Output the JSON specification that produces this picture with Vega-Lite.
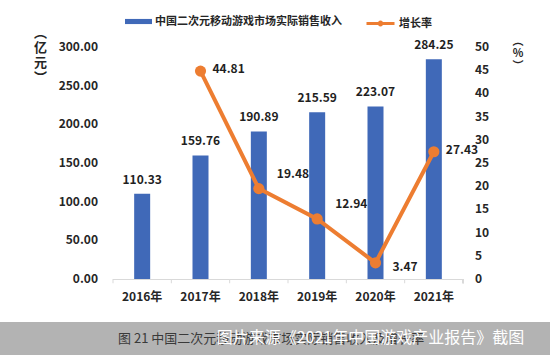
{
  "$schema": "https://vega.github.io/schema/vega-lite/v6.json",
  "width": 550,
  "height": 355,
  "autosize": {"type": "none"},
  "padding": 0,
  "background": "#ffffff",
  "config": {"view": {"stroke": null}, "font": "Noto Sans CJK SC"},
  "datasets": {
    "main": [
      {"year": "2016年", "revenue": 110.33, "growth": null},
      {"year": "2017年", "revenue": 159.76, "growth": 44.81},
      {"year": "2018年", "revenue": 190.89, "growth": 19.48},
      {"year": "2019年", "revenue": 215.59, "growth": 12.94},
      {"year": "2020年", "revenue": 223.07, "growth": 3.47},
      {"year": "2021年", "revenue": 284.25, "growth": 27.43}
    ],
    "leftTicks": [{"v": 0}, {"v": 50}, {"v": 100}, {"v": 150}, {"v": 200}, {"v": 250}, {"v": 300}],
    "rightTicks": [{"v": 0}, {"v": 5}, {"v": 10}, {"v": 15}, {"v": 20}, {"v": 25}, {"v": 30}, {"v": 35}, {"v": 40}, {"v": 45}, {"v": 50}],
    "texts": [{"caption": "图 21 中国二次元移动游戏市场实际销售收入及增长率", "source": "图片来源《2021年中国游戏产业报告》截图", "leftTitle": "︵\n亿\n元\n︶", "rightTitle": "︵\n%\n︶"}]
  },
  "data": {"name": "main"},
  "layer": [
    {
      "layer": [
        {
          "mark": {"type": "rect", "color": "#b3b3b3"},
          "encoding": {
            "y": {"datum": -55.6, "type": "quantitative", "axis": null},
            "y2": {"datum": -140}
          }
        },
        {
          "mark": {"type": "bar", "width": {"band": 1}, "color": "#d9d9d9"},
          "encoding": {
            "x": {"field": "year", "type": "nominal", "sort": null, "axis": null},
            "y": {"datum": 0, "type": "quantitative", "axis": null},
            "y2": {"datum": -1.3}
          }
        },
        {
          "mark": {"type": "rule", "color": "#d9d9d9", "strokeWidth": 1},
          "encoding": {
            "x": {"field": "year", "type": "nominal", "sort": null, "bandPosition": 0, "axis": null},
            "y": {"datum": 0, "type": "quantitative", "axis": null},
            "y2": {"datum": -5.5}
          }
        },
        {
          "mark": {"type": "rule", "color": "#d9d9d9", "strokeWidth": 1},
          "encoding": {
            "x": {"datum": "2021年", "bandPosition": 1, "axis": null},
            "y": {"datum": 0, "type": "quantitative", "axis": null},
            "y2": {"datum": -5.5}
          }
        },
        {
          "mark": {"type": "bar", "width": 16},
          "encoding": {
            "x": {
              "field": "year", "type": "nominal", "sort": null,
              "scale": {"range": [113, 463], "paddingInner": 0, "paddingOuter": 0},
              "axis": null
            },
            "y": {
              "field": "revenue", "type": "quantitative",
              "scale": {"domain": [0, 300], "range": [279, 47], "nice": false, "zero": false},
              "axis": null
            },
            "fill": {
              "datum": "中国二次元移动游戏市场实际销售收入", "type": "nominal",
              "scale": {"range": ["#4069B8"]},
              "legend": {
                "orient": "none", "legendX": 125, "legendY": 8, "direction": "horizontal", "title": null,
                "labelFontSize": 11, "labelFontWeight": "bold", "labelColor": "#262626", "labelLimit": 400,
                "symbolType": "M-1,-0.19H1V0.19H-1Z", "symbolSize": 729, "symbolStrokeWidth": 0,
                "labelOffset": 3, "padding": 0
              }
            }
          }
        },
        {
          "mark": {"type": "text", "baseline": "middle", "dy": -14, "fontSize": 12, "fontWeight": "bold", "color": "#1f1f1f"},
          "encoding": {
            "x": {"field": "year", "type": "nominal", "sort": null, "axis": null},
            "y": {"field": "revenue", "type": "quantitative", "axis": null},
            "text": {"field": "revenue", "type": "quantitative", "format": ".2f"}
          }
        },
        {
          "mark": {"type": "text", "baseline": "middle", "fontSize": 12, "fontWeight": "bold", "color": "#262626"},
          "encoding": {
            "x": {"field": "year", "type": "nominal", "sort": null, "axis": null},
            "y": {"datum": -23.3, "type": "quantitative", "axis": null},
            "text": {"field": "year"}
          }
        },
        {
          "data": {"name": "leftTicks"},
          "mark": {"type": "text", "align": "right", "baseline": "middle", "dx": -15, "fontSize": 12, "fontWeight": "bold", "color": "#262626"},
          "encoding": {
            "x": {"datum": "2016年", "bandPosition": 0, "axis": null},
            "y": {"field": "v", "type": "quantitative", "axis": null},
            "text": {"field": "v", "type": "quantitative", "format": ".2f"}
          }
        },
        {
          "data": {"name": "texts"},
          "layer": [
            {
              "mark": {"type": "text", "align": "left", "baseline": "middle", "dx": 5, "fontSize": 13, "color": "#3a3a3a"},
              "encoding": {
                "x": {"datum": "2016年", "bandPosition": 0, "axis": null},
                "y": {"datum": -77, "type": "quantitative", "axis": null},
                "text": {"field": "caption"}
              }
            },
            {
              "mark": {"type": "text", "align": "left", "baseline": "middle", "dx": -13, "fontSize": 16, "color": "#ffffff"},
              "encoding": {
                "x": {"datum": "2018年", "bandPosition": 0, "axis": null},
                "y": {"datum": -76, "type": "quantitative", "axis": null},
                "text": {"field": "source"}
              }
            },
            {
              "mark": {"type": "text", "align": "center", "baseline": "middle", "dx": -72.5, "fontSize": 13, "fontWeight": "bold", "lineHeight": 15, "lineBreak": "\n", "color": "#262626"},
              "encoding": {
                "x": {"datum": "2016年", "bandPosition": 0, "axis": null},
                "y": {"datum": 318.1, "type": "quantitative", "axis": null},
                "text": {"field": "leftTitle"}
              }
            },
            {
              "mark": {"type": "text", "align": "center", "baseline": "middle", "dx": 55, "fontSize": 11, "fontWeight": "bold", "lineHeight": 12.5, "lineBreak": "\n", "color": "#262626"},
              "encoding": {
                "x": {"datum": "2021年", "bandPosition": 1, "axis": null},
                "y": {"datum": 307.1, "type": "quantitative", "axis": null},
                "text": {"field": "rightTitle"}
              }
            }
          ]
        }
      ]
    },
    {
      "layer": [
        {
          "transform": [{"filter": "datum.growth != null"}],
          "mark": {"type": "line", "strokeWidth": 4},
          "encoding": {
            "x": {"field": "year", "type": "nominal", "sort": null, "axis": null},
            "y": {
              "field": "growth", "type": "quantitative",
              "scale": {"domain": [0, 50], "range": [279, 47], "nice": false, "zero": false},
              "axis": null
            },
            "stroke": {
              "datum": "增长率", "type": "nominal",
              "scale": {"range": ["#ED7D31"]},
              "legend": {
                "orient": "none", "legendX": 365, "legendY": 8, "direction": "horizontal", "title": null,
                "labelFontSize": 11, "labelFontWeight": "bold", "labelColor": "#262626", "labelLimit": 400,
                "symbolType": "M-1,0H1M-0.1,0A0.1,0.1,0,1,0,0.1,0A0.1,0.1,0,1,0,-0.1,0",
                "symbolSize": 784, "symbolStrokeWidth": 3, "symbolFillColor": "#ED7D31",
                "labelOffset": 3, "padding": 0
              }
            }
          }
        },
        {
          "transform": [{"filter": "datum.growth != null"}],
          "mark": {"type": "point", "filled": true, "size": 125, "opacity": 1, "color": "#ED7D31"},
          "encoding": {
            "x": {"field": "year", "type": "nominal", "sort": null, "axis": null},
            "y": {"field": "growth", "type": "quantitative", "axis": null}
          }
        },
        {
          "transform": [{"filter": "datum.year === '2017年' || datum.year === '2021年'"}],
          "mark": {"type": "text", "align": "left", "baseline": "middle", "dx": 12, "dy": -2, "fontSize": 12, "fontWeight": "bold", "color": "#1f1f1f"},
          "encoding": {
            "x": {"field": "year", "type": "nominal", "sort": null, "axis": null},
            "y": {"field": "growth", "type": "quantitative", "axis": null},
            "text": {"field": "growth", "type": "quantitative", "format": ".2f"}
          }
        },
        {
          "transform": [{"filter": "datum.year === '2018年' || datum.year === '2019年'"}],
          "mark": {"type": "text", "align": "left", "baseline": "middle", "dx": 18, "dy": -15, "fontSize": 12, "fontWeight": "bold", "color": "#1f1f1f"},
          "encoding": {
            "x": {"field": "year", "type": "nominal", "sort": null, "axis": null},
            "y": {"field": "growth", "type": "quantitative", "axis": null},
            "text": {"field": "growth", "type": "quantitative", "format": ".2f"}
          }
        },
        {
          "transform": [{"filter": "datum.year === '2020年'"}],
          "mark": {"type": "text", "align": "left", "baseline": "middle", "dx": 17, "dy": 4, "fontSize": 12, "fontWeight": "bold", "color": "#1f1f1f"},
          "encoding": {
            "x": {"field": "year", "type": "nominal", "sort": null, "axis": null},
            "y": {"field": "growth", "type": "quantitative", "axis": null},
            "text": {"field": "growth", "type": "quantitative", "format": ".2f"}
          }
        },
        {
          "data": {"name": "rightTicks"},
          "mark": {"type": "text", "align": "left", "baseline": "middle", "dx": 12, "fontSize": 12, "fontWeight": "bold", "color": "#262626"},
          "encoding": {
            "x": {"datum": "2021年", "bandPosition": 1, "axis": null},
            "y": {"field": "v", "type": "quantitative", "axis": null},
            "text": {"field": "v", "type": "quantitative"}
          }
        }
      ]
    }
  ],
  "resolve": {"scale": {"y": "independent"}}
}
